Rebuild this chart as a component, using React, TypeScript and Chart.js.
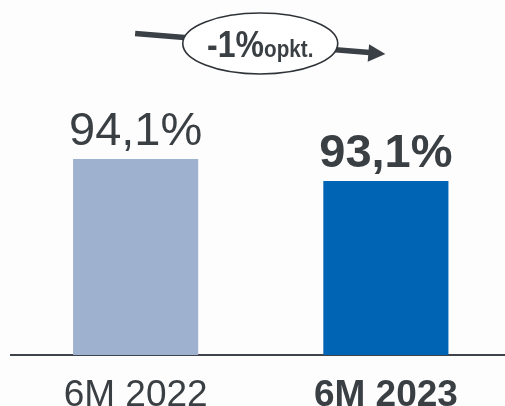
import React, { useEffect, useRef } from "react";
import { Chart, registerables } from "chart.js";

Chart.register(...registerables);

const categories = ["6M 2022", "6M 2023"];
const values = [94.1, 93.1];
const barColors = ["#9eb1cf", "#0064b4"];
const boldFlags = [false, true];
const changeMain = "-1%";
const changeUnit = "opkt.";

const Y_MIN = 85.19;
const Y_MAX = 97.69;
const FONT = "'Liberation Sans', Arial, sans-serif";
const TEXT = "#3a3f44";

const fmt = (v: number) => v.toFixed(1).replace(".", ",") + "%";

const labelPlugin = {
  id: "valueLabels",
  afterDatasetsDraw(chart: any) {
    const ctx = chart.ctx;
    const meta = chart.getDatasetMeta(0);
    ctx.save();
    ctx.fillStyle = TEXT;
    ctx.textAlign = "center";
    ctx.textBaseline = "alphabetic";
    meta.data.forEach((bar: any, i: number) => {
      ctx.font = `${boldFlags[i] ? "bold " : ""}47px ${FONT}`;
      ctx.fillText(fmt(values[i]), bar.x, bar.y - 14);
    });
    ctx.restore();
  },
  afterDraw(chart: any) {
    const ctx = chart.ctx;
    const meta = chart.getDatasetMeta(0);
    const x0 = meta.data[0].x - 0.5;
    const x1 = meta.data[1].x - 0.5;
    const yL = 33.5;
    const tipY = 54;
    const baseX = x1 - 17;
    const baseY = 52.5;
    ctx.save();
    // line
    ctx.strokeStyle = "#3b4046";
    ctx.lineWidth = 5.5;
    ctx.beginPath();
    ctx.moveTo(x0, yL);
    ctx.lineTo(baseX + 1, baseY);
    ctx.stroke();
    // arrow head
    ctx.fillStyle = "#3b4046";
    ctx.beginPath();
    ctx.moveTo(x1, tipY);
    ctx.lineTo(baseX + 0.7, 44.3);
    ctx.lineTo(baseX - 0.7, 61.7);
    ctx.closePath();
    ctx.fill();
    // ellipse
    const cx = (x0 + x1) / 2;
    const cy = 43.5;
    ctx.beginPath();
    ctx.ellipse(cx, cy, 77.5, 30.5, 0, 0, Math.PI * 2);
    ctx.fillStyle = "#ffffff";
    ctx.fill();
    ctx.lineWidth = 1.6;
    ctx.strokeStyle = "#2f3338";
    ctx.stroke();
    // text
    ctx.fillStyle = TEXT;
    ctx.textBaseline = "alphabetic";
    ctx.textAlign = "left";
    const f1 = `bold 36px ${FONT}`;
    const f2 = `bold 24px ${FONT}`;
    const s1 = 0.89;
    const s2 = 0.86;
    ctx.font = f1;
    const w1 = ctx.measureText(changeMain).width * s1;
    ctx.font = f2;
    const w2 = ctx.measureText(changeUnit).width * s2;
    const start = cx - (w1 + w2) / 2;
    const baseline = 57;
    ctx.save();
    ctx.translate(start, baseline);
    ctx.scale(s1, 1);
    ctx.font = f1;
    ctx.fillText(changeMain, 0, 0);
    ctx.restore();
    ctx.save();
    ctx.translate(start + w1, baseline);
    ctx.scale(s2, 1);
    ctx.font = f2;
    ctx.fillText(changeUnit, 0, 0);
    ctx.restore();
    ctx.restore();
  },
};

export default function App() {
  const ref = useRef<HTMLCanvasElement | null>(null);
  useEffect(() => {
    document.body.style.margin = "0";
    document.body.style.background = "#fdfdfd";
    if (!ref.current) return;
    const chart = new Chart(ref.current, {
      type: "bar",
      data: {
        labels: categories,
        datasets: [
          {
            data: values,
            backgroundColor: barColors,
            borderWidth: 0,
            barPercentage: 0.5,
            categoryPercentage: 1,
          },
        ],
      },
      options: {
        animation: false,
        responsive: false,
        devicePixelRatio: 1,
        layout: { padding: { top: 80, left: 10.5, right: 0, bottom: 0 } },
        plugins: {
          legend: { display: false },
          tooltip: { enabled: false },
          title: { display: false },
        },
        scales: {
          x: {
            grid: { display: false },
            border: { display: true, color: "#3f444a", width: 2 },
            ticks: {
              color: TEXT,
              padding: 11,
              font: (c: any) => ({
                family: FONT,
                size: 37,
                weight: boldFlags[c.index] ? "bold" : "normal",
              }),
            },
            afterFit: (scale: any) => {
              scale.height = 51;
            },
          },
          y: {
            display: false,
            min: Y_MIN,
            max: Y_MAX,
          },
        },
      },
      plugins: [labelPlugin],
    });
    return () => chart.destroy();
  }, []);
  return (
    <div style={{ width: 505, height: 406, overflow: "hidden", position: "relative", background: "#fdfdfd" }}>
      <canvas ref={ref} width={511} height={406} style={{ display: "block" }} />
    </div>
  );
}
